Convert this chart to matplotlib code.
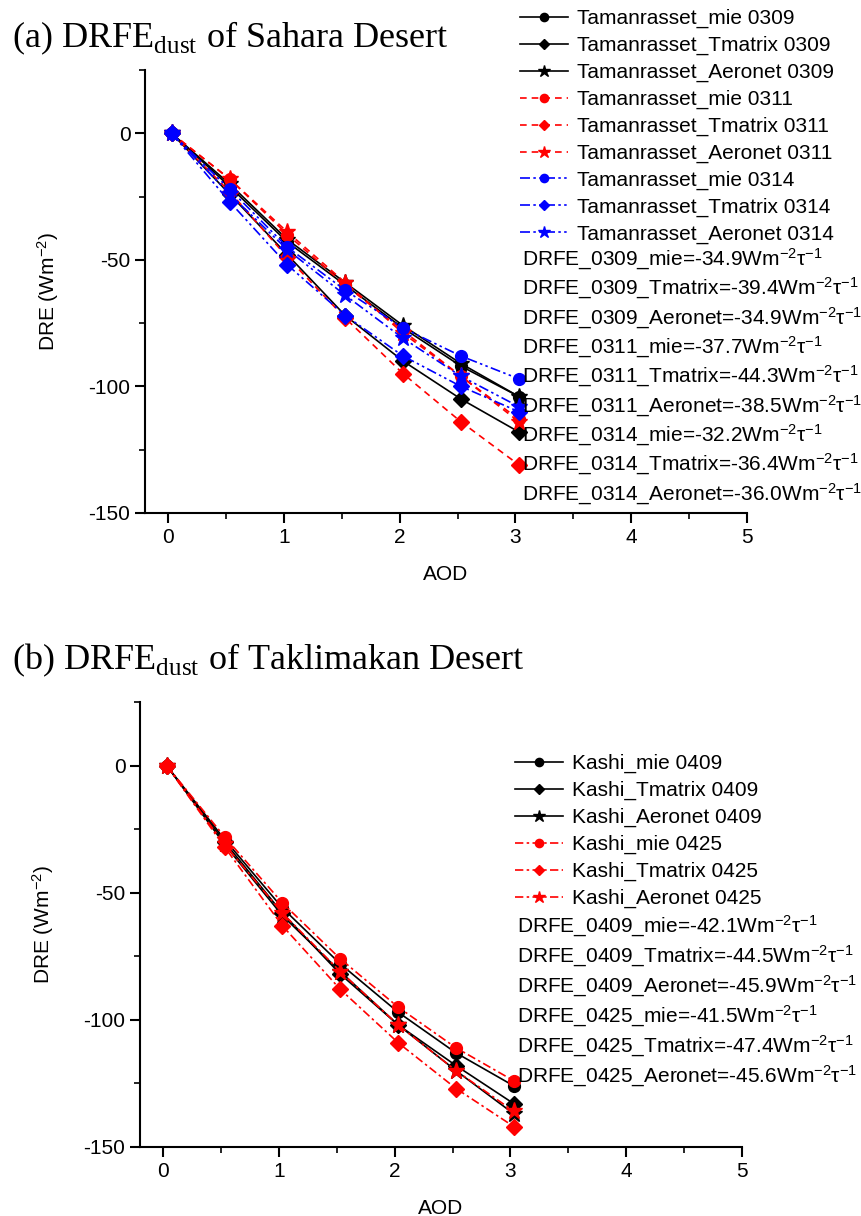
import matplotlib
matplotlib.use("Agg")
import matplotlib.pyplot as plt
from matplotlib.ticker import MultipleLocator

plt.rcParams['font.family'] = ['Liberation Sans', 'DejaVu Sans']
plt.rcParams['mathtext.fontset'] = 'custom'
plt.rcParams['mathtext.rm'] = 'Liberation Sans'
plt.rcParams['mathtext.it'] = 'Liberation Sans:italic'
plt.rcParams['axes.unicode_minus'] = False

# AOD values (points sit slightly right of the ticks)
aod = [0.03, 0.53, 1.03, 1.53, 2.03, 2.53, 3.03]

# (a) Sahara, Tamanrasset
sahara_labels = ['Tamanrasset_mie 0309', 'Tamanrasset_Tmatrix 0309', 'Tamanrasset_Aeronet 0309',
                 'Tamanrasset_mie 0311', 'Tamanrasset_Tmatrix 0311', 'Tamanrasset_Aeronet 0311',
                 'Tamanrasset_mie 0314', 'Tamanrasset_Tmatrix 0314', 'Tamanrasset_Aeronet 0314']
sahara_dre = [
    [0, -21, -43, -60, -77, -92, -104],
    [0, -24, -48, -72, -90, -105, -118],
    [0, -20, -42, -59, -76, -91, -104],
    [0, -18, -40, -60, -78, -96, -113],
    [0, -23, -49, -73, -95, -114, -131],
    [0, -18, -39, -59, -79, -96, -114],
    [0, -22, -45, -62, -77, -88, -97],
    [0, -27, -52, -72, -88, -100, -110],
    [0, -24, -46, -64, -81, -96, -108],
]
sahara_drfe = ['DRFE_0309_mie=-34.9', 'DRFE_0309_Tmatrix=-39.4', 'DRFE_0309_Aeronet=-34.9',
               'DRFE_0311_mie=-37.7', 'DRFE_0311_Tmatrix=-44.3', 'DRFE_0311_Aeronet=-38.5',
               'DRFE_0314_mie=-32.2', 'DRFE_0314_Tmatrix=-36.4', 'DRFE_0314_Aeronet=-36.0']

# (b) Taklimakan, Kashi
takla_labels = ['Kashi_mie 0409', 'Kashi_Tmatrix 0409', 'Kashi_Aeronet 0409',
                'Kashi_mie 0425', 'Kashi_Tmatrix 0425', 'Kashi_Aeronet 0425']
takla_dre = [
    [0, -29, -56, -78, -97, -113, -126],
    [0, -30, -58, -82, -102, -118, -133],
    [0, -31, -59, -81, -102, -120, -137],
    [0, -28, -54, -76, -95, -111, -124],
    [0, -32, -63, -88, -109, -127, -142],
    [0, -31, -58, -81, -102, -120, -136],
]
takla_drfe = ['DRFE_0409_mie=-42.1', 'DRFE_0409_Tmatrix=-44.5', 'DRFE_0409_Aeronet=-45.9',
              'DRFE_0425_mie=-41.5', 'DRFE_0425_Tmatrix=-47.4', 'DRFE_0425_Aeronet=-45.6']

markers = ['o', 'D', '*']
msizes = [8.5, 8, 12.5]
unit = 'Wm$^{\\mathregular{-2}}$τ$^{\\mathregular{-1}}$'

W, H = 861, 1216
fig = plt.figure(figsize=(W / 100, H / 100), dpi=100)


def px_axes(l, t, r, b):
    return fig.add_axes([l / W, 1 - b / H, (r - l) / W, (b - t) / H])


def style_axes(ax):
    ax.set_xlim(-0.2, 5)
    ax.set_ylim(-150, 25)
    ax.spines['top'].set_visible(False)
    ax.spines['right'].set_visible(False)
    for s in ('left', 'bottom'):
        ax.spines[s].set_linewidth(1.5)
    ax.xaxis.set_major_locator(MultipleLocator(1))
    ax.xaxis.set_minor_locator(MultipleLocator(0.5))
    ax.yaxis.set_major_locator(MultipleLocator(50))
    ax.yaxis.set_minor_locator(MultipleLocator(25))
    ax.tick_params(which='major', direction='out', length=7, width=1.5, labelsize=15)
    ax.tick_params(which='minor', direction='out', length=4, width=1.2)
    ax.set_xlabel('AOD', fontsize=15, labelpad=13)
    ax.set_ylabel('DRE (Wm$^{\\mathregular{-2}}$)', fontsize=15, labelpad=20)


def draw_panel(ax, dre, labels, colors, styles):
    for i, vals in enumerate(dre):
        g = i // 3
        ax.plot(aod, vals, color=colors[g], linestyle=styles[g], linewidth=1.2,
                marker=markers[i % 3], markersize=msizes[i % 3], label=labels[i])


# ---- panel (a)
ax1 = px_axes(145, 70, 747, 513)
style_axes(ax1)
draw_panel(ax1, sahara_dre, sahara_labels,
           ['black', 'red', 'blue'],
           ['-', (0, (4, 3)), (0, (6, 2, 1.5, 2, 1.5, 2))])
leg1 = ax1.legend(loc='upper left', bbox_to_anchor=(520 / W, 1 - 9 / H),
                  bbox_transform=fig.transFigure, frameon=False, fontsize=15,
                  handlelength=2.3, handletextpad=0.45, labelspacing=0.37,
                  borderpad=0, borderaxespad=0, markerscale=0.7)
for i, t in enumerate(sahara_drfe):
    fig.text(522 / W, 1 - (259 + 29.4 * i) / H, t + unit, fontsize=15, va='center')
fig.text(12 / W, 1 - 38 / H, '(a) DRFE$_{\\mathregular{dust}}$ of Sahara Desert',
         family='Liberation Serif', fontsize=26, va='center')

# ---- panel (b)
ax2 = px_axes(140, 702, 742, 1147)
style_axes(ax2)
draw_panel(ax2, takla_dre, takla_labels,
           ['black', 'red'],
           ['-', (0, (5, 2, 1.5, 2))])
leg2 = ax2.legend(loc='upper left', bbox_to_anchor=(515 / W, 1 - 754 / H),
                  bbox_transform=fig.transFigure, frameon=False, fontsize=15,
                  handlelength=2.3, handletextpad=0.45, labelspacing=0.37,
                  borderpad=0, borderaxespad=0, markerscale=0.7)
for i, t in enumerate(takla_drfe):
    fig.text(517 / W, 1 - (926 + 30 * i) / H, t + unit, fontsize=15, va='center')
fig.text(12 / W, 1 - 660 / H, '(b) DRFE$_{\\mathregular{dust}}$ of Taklimakan Desert',
         family='Liberation Serif', fontsize=26, va='center')

fig.savefig('out.png', dpi=100)
